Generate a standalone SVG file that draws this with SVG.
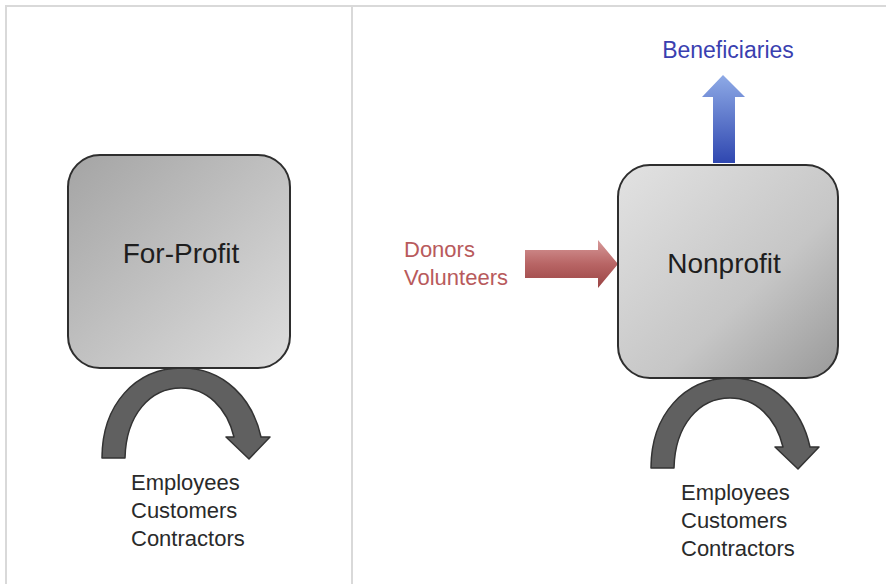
<svg xmlns="http://www.w3.org/2000/svg" width="886" height="584" viewBox="0 0 886 584">
<defs>
<style>
.frame{stroke:#d9d9d9;stroke-width:2;fill:none}
.box{stroke:#2e2e2e;stroke-width:2}
.big{font-family:"Liberation Sans",Arial,sans-serif;font-size:28px;fill:#1e1e1e;text-anchor:middle}
.lbl{font-family:"Liberation Sans",Arial,sans-serif;font-size:22px;fill:#2a2a2a}
.curve{fill:#606060;stroke:#333;stroke-width:1.5;stroke-linejoin:round}
</style>
<linearGradient id="gFor" x1="0" y1="0" x2="1" y2="1">
<stop offset="0" stop-color="#a4a4a4"/>
<stop offset="1" stop-color="#dedede"/>
</linearGradient>
<linearGradient id="gNon" x1="0" y1="0" x2="1" y2="1">
<stop offset="0" stop-color="#e2e2e2"/>
<stop offset="0.6" stop-color="#c6c6c6"/>
<stop offset="1" stop-color="#999999"/>
</linearGradient>
<linearGradient id="gBlue" x1="0" y1="0" x2="0" y2="1">
<stop offset="0" stop-color="#8eaae6"/>
<stop offset="1" stop-color="#2f47b0"/>
</linearGradient>
<linearGradient id="gRed" x1="0" y1="0" x2="0" y2="1">
<stop offset="0" stop-color="#d79a9a"/>
<stop offset="0.5" stop-color="#b86565"/>
<stop offset="1" stop-color="#9a4444"/>
</linearGradient>
<path id="curveArrow" d="M102 458 C102 405 135 368 182 368 C225 368 253 400 261 437 L270 437 L249 459 L226 437 L234 437 C227 408 207 388 181 388 C150 388 126 415 125 458 Z"/>
</defs>
<rect width="886" height="584" fill="#ffffff"/>
<g id="frame">
<line class="frame" x1="5" y1="6" x2="886" y2="6"/>
<line class="frame" x1="6" y1="6" x2="6" y2="584"/>
<line class="frame" x1="352" y1="6" x2="352" y2="584"/>
</g>
<g id="connectors">
<use href="#curveArrow" class="curve"/>
<use href="#curveArrow" class="curve" transform="translate(549,10)"/>
<path d="M713 163 L713 97 L702 97 L723 75 L745 97 L735 97 L735 163 Z" fill="url(#gBlue)"/>
<path d="M525 250 L598 250 L598 240 L618 264 L598 288 L598 278 L525 278 Z" fill="url(#gRed)"/>
</g>
<g id="for-profit">
<rect class="box" x="68" y="155" width="222" height="213" rx="32" fill="url(#gFor)"/>
<text class="big" x="181" y="263">For-Profit</text>
</g>
<g id="nonprofit">
<rect class="box" x="618" y="165" width="220" height="213" rx="32" fill="url(#gNon)"/>
<text class="big" x="724" y="273">Nonprofit</text>
</g>
<g id="left-stakeholders">
<text class="lbl" x="131" y="490">Employees</text>
<text class="lbl" x="131" y="518">Customers</text>
<text class="lbl" x="131" y="546">Contractors</text>
</g>
<g id="right-stakeholders">
<text class="lbl" x="681" y="500">Employees</text>
<text class="lbl" x="681" y="528">Customers</text>
<text class="lbl" x="681" y="556">Contractors</text>
</g>
<g id="donors">
<text class="lbl" x="404" y="257" style="fill:#b85a5c">Donors</text>
<text class="lbl" x="404" y="285" style="fill:#b85a5c">Volunteers</text>
</g>
<g id="beneficiaries">
<text class="lbl" x="728" y="58" text-anchor="middle" style="fill:#3a3fb0;font-size:23px">Beneficiaries</text>
</g>
</svg>
